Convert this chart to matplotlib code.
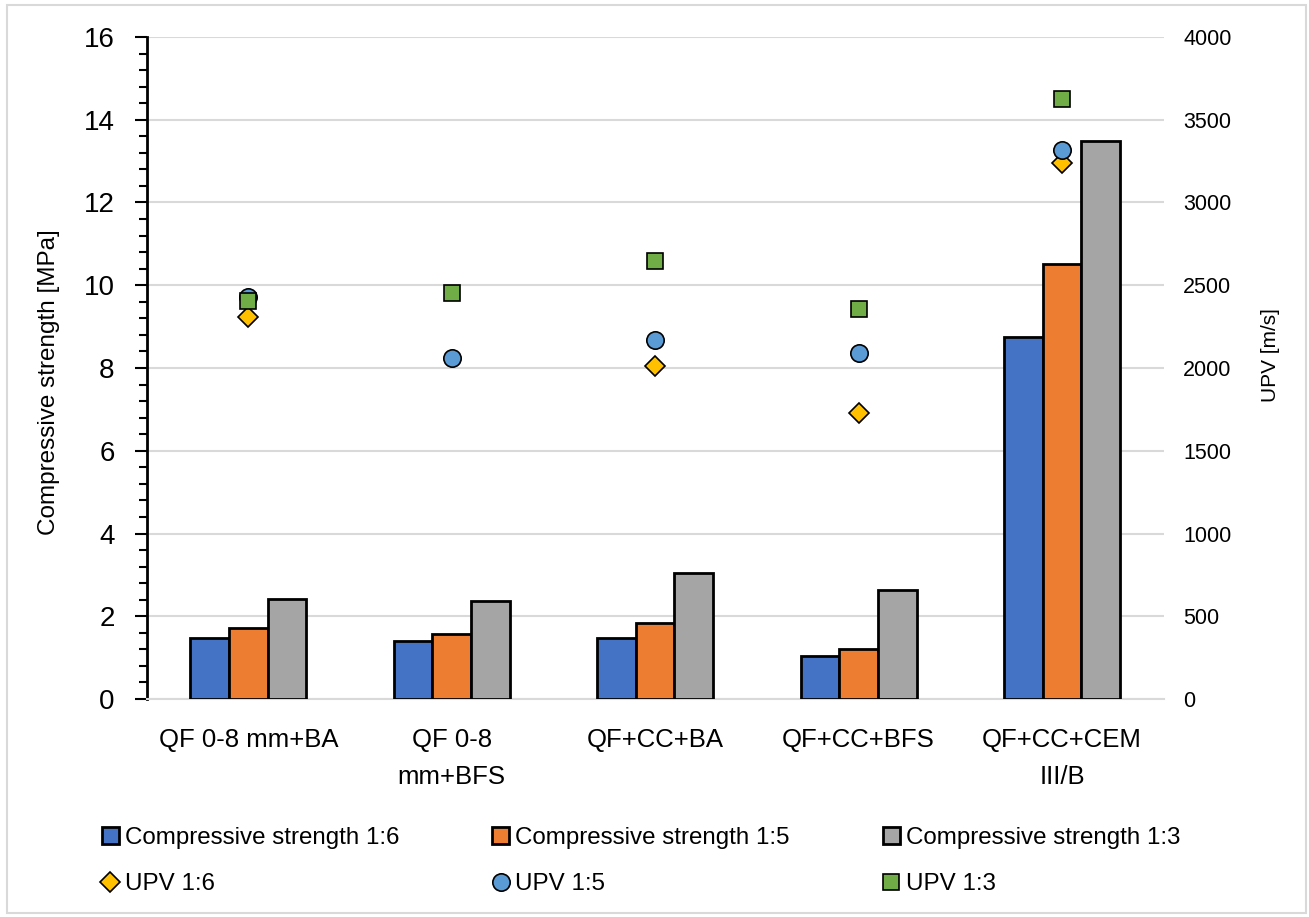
import matplotlib
matplotlib.use('Agg')
import matplotlib.pyplot as plt
import numpy as np
from matplotlib.patches import Rectangle
from matplotlib.ticker import MultipleLocator

plt.rcParams['font.family'] = ['Liberation Sans', 'DejaVu Sans']

# DATA
categories = ['QF 0-8 mm+BA', 'QF 0-8\nmm+BFS', 'QF+CC+BA', 'QF+CC+BFS', 'QF+CC+CEM\nIII/B']
cs_16 = [1.48, 1.40, 1.47, 1.04, 8.74]
cs_15 = [1.72, 1.57, 1.84, 1.21, 10.51]
cs_13 = [2.42, 2.37, 3.04, 2.63, 13.48]
upv_16 = [2310, np.nan, 2012, 1728, 3239]
upv_15 = [2430, 2062, 2169, 2089, 3317]
upv_13 = [2406, 2451, 2647, 2354, 3625]

fig = plt.figure(figsize=(13.09, 9.17), dpi=100)
ax = fig.add_axes([0.112, 0.2377, 0.777, 0.722])
ax2 = ax.twinx()

x = np.arange(len(categories))
w = 0.19
b1 = ax.bar(x - w, cs_16, w, color='#4472C4', edgecolor='black', linewidth=2, label='Compressive strength 1:6', zorder=3)
b2 = ax.bar(x, cs_15, w, color='#ED7D31', edgecolor='black', linewidth=2, label='Compressive strength 1:5', zorder=3)
b3 = ax.bar(x + w, cs_13, w, color='#A5A5A5', edgecolor='black', linewidth=2, label='Compressive strength 1:3', zorder=3)

m1, = ax2.plot(x, upv_16, 'D', ms=10, color='#FFC000', mec='black', mew=1.2, ls='none', label='UPV 1:6', zorder=3)
m2, = ax2.plot(x, upv_15, 'o', ms=12.5, color='#5B9BD5', mec='black', mew=1.2, ls='none', label='UPV 1:5', zorder=4)
m3, = ax2.plot(x, upv_13, 's', ms=11.5, color='#70AD47', mec='black', mew=1.2, ls='none', label='UPV 1:3', zorder=5)

ax.set_xlim(-0.5, 4.5)
ax.set_ylim(0, 16)
ax2.set_ylim(0, 4000)
ax.yaxis.set_major_locator(MultipleLocator(2))
ax.yaxis.set_minor_locator(MultipleLocator(0.4))
ax2.yaxis.set_major_locator(MultipleLocator(500))

ax.grid(axis='y', color='#D9D9D9', lw=1.5, zorder=0)
ax.set_axisbelow(True)
for s in ['top', 'right']:
    ax.spines[s].set_visible(False)
for s in ['top', 'right', 'left', 'bottom']:
    ax2.spines[s].set_visible(False)
ax.spines['left'].set_linewidth(2)
ax.spines['bottom'].set_color('#D9D9D9')
ax.spines['bottom'].set_linewidth(1.5)

ax.set_xticks(x)
ax.set_xticklabels(categories, fontsize=18.5, linespacing=1.7)
ax.tick_params(axis='x', length=0, pad=21)
ax.tick_params(axis='y', which='major', length=9, width=1.5, labelsize=20, pad=14)
ax.tick_params(axis='y', which='minor', length=6, width=1.5)
ax2.tick_params(axis='y', length=0, labelsize=15.5, pad=14)

ax.set_ylabel('Compressive strength [MPa]', fontsize=17.5)
ax.yaxis.set_label_coords(-0.0855, 0.479)
ax2.set_ylabel('UPV [m/s]', fontsize=15)
ax2.yaxis.set_label_coords(1.096, 0.52)

handles = [b1, m1, b2, m2, b3, m3]
fig.legend(handles=handles, labels=[h.get_label() for h in handles], ncol=3,
           loc='upper left', bbox_to_anchor=(102 / 1309, 1 - 827 / 917), frameon=False,
           borderpad=0, borderaxespad=0,
           fontsize=17.4, columnspacing=3.85, handletextpad=0.25, handlelength=0.7,
           handleheight=0.7, labelspacing=1.0, markerscale=1.0)

fig.patches.append(Rectangle((0.005, 0.004), 0.993, 0.991, transform=fig.transFigure,
                             fill=False, edgecolor='#D9D9D9', lw=1.5))

fig.savefig('out.png', dpi=100)
